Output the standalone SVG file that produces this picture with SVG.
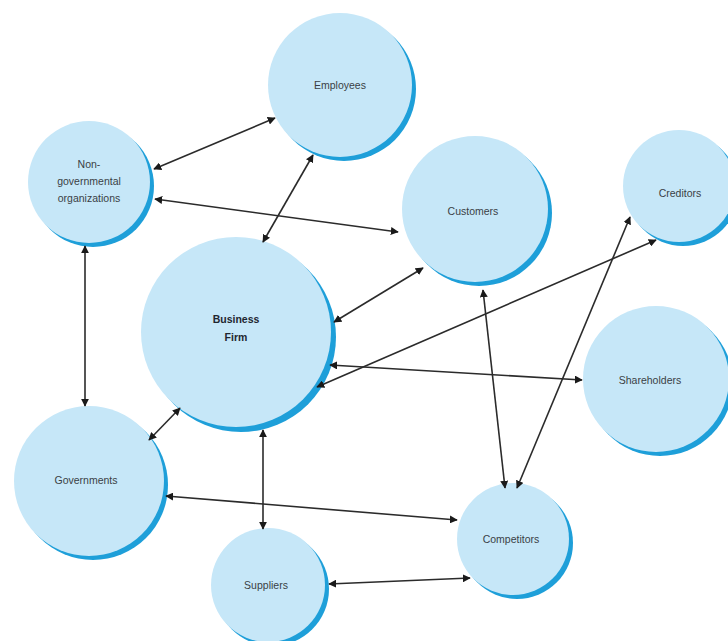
<svg xmlns="http://www.w3.org/2000/svg" width="728" height="641" viewBox="0 0 728 641">
<style>
.sh{fill:#1e9fd9}
.c{fill:#c6e7f8}
.t{font-family:"Liberation Sans",Arial,sans-serif;font-size:10.5px;fill:#3a3f45;text-anchor:middle}
.b{font-weight:bold;fill:#1f2630}
.l{stroke:#2b2b2b;stroke-width:1.6;fill:none;marker-start:url(#ah);marker-end:url(#ah)}
</style>
<defs>
<marker id="ah" viewBox="0 0 10 10" refX="9" refY="5" markerWidth="5" markerHeight="5" orient="auto-start-reverse" markerUnits="strokeWidth">
<path d="M0,0 L10,5 L0,10 z" fill="#1a1a1a"/>
</marker>
</defs>
<rect width="728" height="641" fill="#ffffff"/>
<g id="employees">
<circle class="sh" cx="344" cy="89" r="72"/>
<circle class="c" cx="340" cy="85" r="72"/>
<text class="t" x="340" y="89">Employees</text>
</g>
<g id="ngo">
<circle class="sh" cx="93" cy="186" r="61"/>
<circle class="c" cx="89" cy="182" r="61"/>
<text class="t" x="89" y="168">Non-</text>
<text class="t" x="89" y="185">governmental</text>
<text class="t" x="89" y="202">organizations</text>
</g>
<g id="customers">
<circle class="sh" cx="479" cy="213" r="73"/>
<circle class="c" cx="475" cy="209" r="73"/>
<text class="t" x="473" y="215">Customers</text>
</g>
<g id="creditors">
<circle class="sh" cx="683" cy="190" r="56"/>
<circle class="c" cx="679" cy="186" r="56"/>
<text class="t" x="680" y="197">Creditors</text>
</g>
<g id="firm">
<circle class="sh" cx="241" cy="337" r="95"/>
<circle class="c" cx="236" cy="332" r="95"/>
<text class="t b" x="236" y="323">Business</text>
<text class="t b" x="236" y="341">Firm</text>
</g>
<g id="shareholders">
<circle class="sh" cx="660" cy="383" r="73"/>
<circle class="c" cx="656" cy="379" r="73"/>
<text class="t" x="650" y="384">Shareholders</text>
</g>
<g id="governments">
<circle class="sh" cx="93" cy="485" r="75"/>
<circle class="c" cx="89" cy="481" r="75"/>
<text class="t" x="86" y="484">Governments</text>
</g>
<g id="suppliers">
<circle class="sh" cx="272" cy="589" r="57"/>
<circle class="c" cx="268" cy="585" r="57"/>
<text class="t" x="266" y="589">Suppliers</text>
</g>
<g id="competitors">
<circle class="sh" cx="517" cy="543" r="56"/>
<circle class="c" cx="513" cy="539" r="56"/>
<text class="t" x="511" y="543">Competitors</text>
</g>
<g id="connectors">
<line class="l" x1="154" y1="169" x2="275" y2="118"/>
<line class="l" x1="155" y1="199" x2="398" y2="232"/>
<line class="l" x1="313" y1="155" x2="263" y2="242"/>
<line class="l" x1="85" y1="246" x2="85" y2="406"/>
<line class="l" x1="423" y1="268" x2="334" y2="322"/>
<line class="l" x1="630" y1="217" x2="517" y2="488"/>
<line class="l" x1="656" y1="240" x2="317" y2="387"/>
<line class="l" x1="483" y1="290" x2="505" y2="488"/>
<line class="l" x1="330" y1="365" x2="582" y2="380"/>
<line class="l" x1="180" y1="408" x2="149" y2="440"/>
<line class="l" x1="263" y1="430" x2="263" y2="529"/>
<line class="l" x1="166" y1="496" x2="457" y2="520"/>
<line class="l" x1="329" y1="584" x2="470" y2="578"/>
</g>
</svg>
